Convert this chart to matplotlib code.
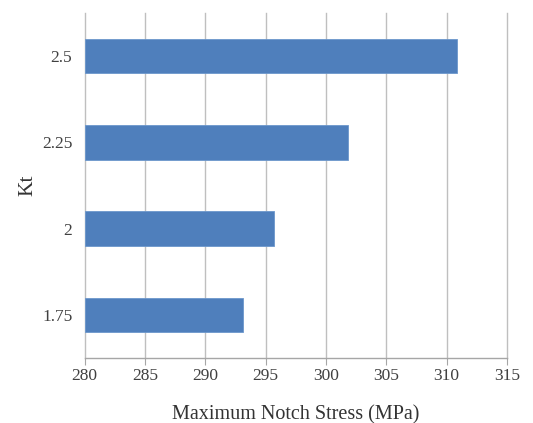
import numpy as np
import matplotlib.pyplot as plt

# Kt categories and maximum notch stress values (MPa)
kt_labels = ["1.75", "2", "2.25", "2.5"]
max_stress = [293.1, 295.7, 301.8, 310.85]
x_ticks = [280, 285, 290, 295, 300, 305, 310, 315]

plt.rcParams['font.family'] = ['Liberation Serif', 'DejaVu Serif']

fig = plt.figure(figsize=(5.33, 4.23), dpi=100)
ax = fig.add_axes([0.159, 0.154, 0.792, 0.815])

ypos = np.arange(len(kt_labels))
# bars start at the axis minimum, like the Excel original
ax.barh(ypos, np.array(max_stress) - 280, left=280, height=0.4,
        color='#4F7FBC', edgecolor='#6C97CC', linewidth=0.6, zorder=3)

ax.set_xlim(280, 315)
ax.set_ylim(-0.5, 3.5)
ax.set_xticks(x_ticks)
ax.set_yticks(ypos)
ax.set_yticklabels(kt_labels)

ax.grid(axis='x', color='#BFBFBF', linewidth=1.0, zorder=0)
for gl in ax.get_xgridlines():
    gl.set_clip_on(False)
for s in ['top', 'right', 'left']:
    ax.spines[s].set_visible(False)
ax.spines['bottom'].set_color('#A6A6A6')
ax.spines['bottom'].set_linewidth(1.0)

ax.tick_params(axis='x', length=5, color='#A6A6A6', labelsize=12.5,
               labelcolor='#404040', pad=2)
ax.tick_params(axis='y', length=0, labelsize=12.5, labelcolor='#404040', pad=9)

ax.set_xlabel('Maximum Notch Stress (MPa)', fontsize=14.5, color='#333333', va='center')
ax.xaxis.set_label_coords(0.5, -0.165)
ax.set_ylabel('Kt', fontsize=15.5, color='#333333', va='center')
ax.yaxis.set_label_coords(-0.134, 0.5)

fig.savefig('out.png', dpi=100)
